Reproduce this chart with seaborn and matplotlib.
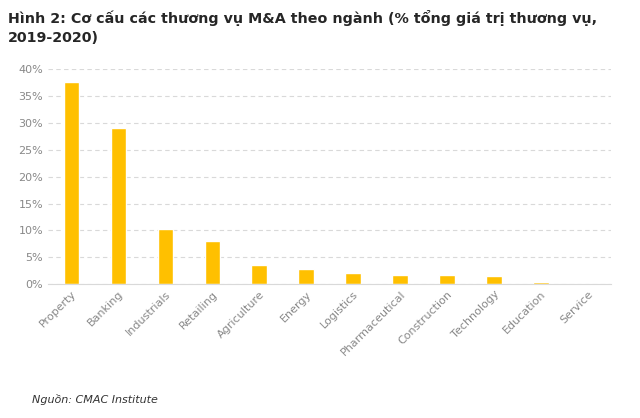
import matplotlib
matplotlib.use("Agg")
import matplotlib.pyplot as plt
import seaborn as sns
import pandas as pd

sectors = ["Property", "Banking", "Industrials", "Retailing", "Agriculture", "Energy",
           "Logistics", "Pharmaceutical", "Construction", "Technology", "Education", "Service"]
shares = [37.5, 29.0, 10.3, 8.0, 3.5, 2.8, 2.1, 1.8, 1.8, 1.5, 0.4, 0.0]
yticks = [0, 5, 10, 15, 20, 25, 30, 35, 40]

df = pd.DataFrame({"sector": sectors, "share": shares})

sns.set_style("white")
plt.rcParams['font.family'] = ['DejaVu Sans']

fig = plt.figure(figsize=(6.4, 4.18), dpi=100)
ax = fig.add_axes([0.075, 0.32, 0.88, 0.515])
sns.barplot(data=df, x="sector", y="share", color="#FFC000", saturation=1,
            width=0.33, ax=ax, zorder=2)

ax.set_ylim(0, 40)
ax.set_yticks(yticks)
ax.set_yticklabels([f"{v}%" for v in yticks], color="#888888", fontsize=8)
ax.yaxis.grid(True, linestyle=(0, (4, 3)), color="#d9d9d9", linewidth=0.8, zorder=0)
ax.set_xlabel("")
ax.set_ylabel("")
plt.setp(ax.get_xticklabels(), rotation=45, ha="right", rotation_mode="anchor",
         color="#888888", fontsize=8)
ax.tick_params(length=0)
for s in ["top", "right", "left"]:
    ax.spines[s].set_visible(False)
ax.spines["bottom"].set_color("#d9d9d9")

fig.text(0.012, 0.975, "Hình 2: Cơ cấu các thương vụ M&A theo ngành (% tổng giá trị thương vụ,\n2019-2020)",
         fontsize=10.3, fontweight="bold", va="top", ha="left", linespacing=1.4)
fig.text(0.05, 0.035, "Nguồn: CMAC Institute", fontsize=8, style="italic", color="#333333")

fig.savefig("out.png", dpi=100)
